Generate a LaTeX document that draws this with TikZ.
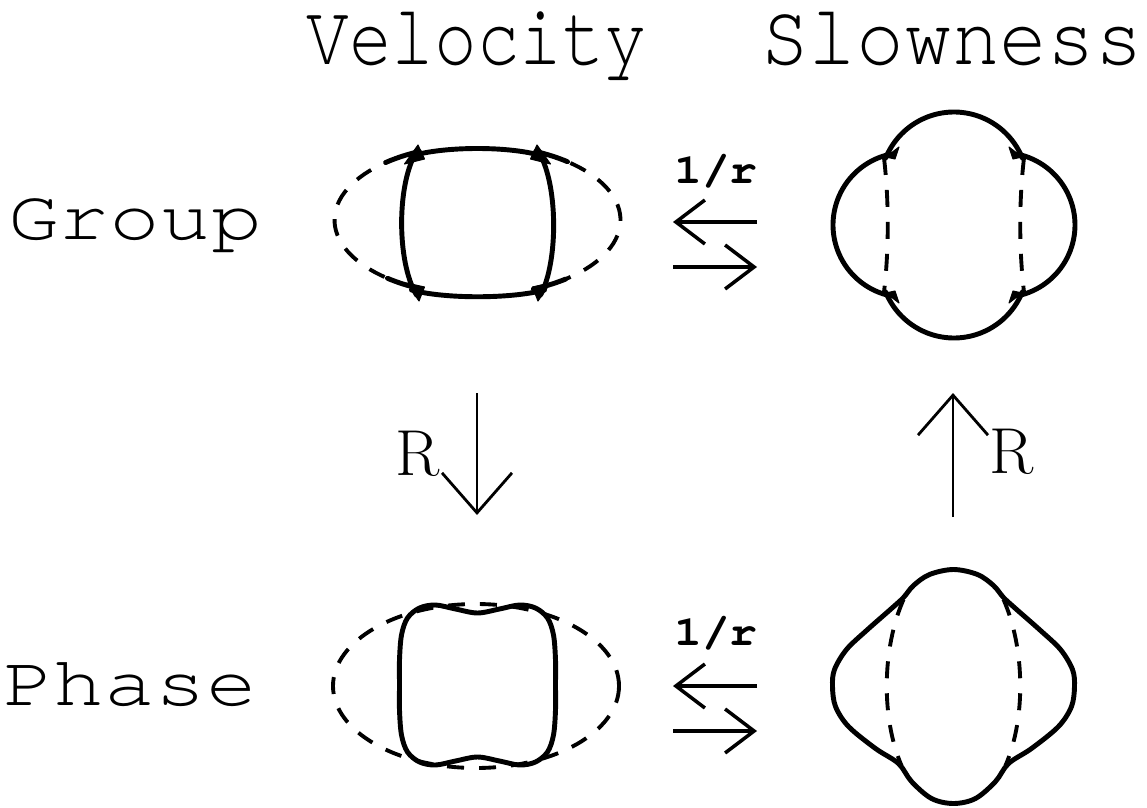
\documentclass[tikz,border=0pt]{standalone}
\usepackage{fontspec}
\usepackage{graphicx}
\usetikzlibrary{arrows.meta}
\newfontfamily\cursorfont{TeX Gyre Cursor}
\newcommand{\titlefont}{\cursorfont\fontsize{40.4}{44}\selectfont}
\newcommand{\rowfont}{\cursorfont\fontsize{40.4}{44}\selectfont}
\newcommand{\rfont}{\cursorfont\bfseries\fontsize{24}{26}\selectfont}
\newcommand{\Rfont}{\rmfamily\fontsize{37}{40}\selectfont}
\begin{document}
\begin{tikzpicture}[x=0.02cm,y=-0.02cm,
  surf/.style={line width=2.8pt, line join=round, line cap=round},
  cusp/.style={fill=black, draw=black, line width=0.6pt, line join=round},
  dsurf/.style={line width=2.2pt, dash pattern=on 0.34cm off 0.3cm},
  maparrow/.style={line width=2pt, -{Straight Barb[length=0.58cm,width=0.88cm,line width=2pt]}},
  rarrow/.style={line width=1.6pt, -{Straight Barb[length=0.8cm,width=1.4cm,line width=1.6pt]}},
  lbl/.style={anchor=base, inner sep=0pt}]
\useasboundingbox (0,0) rectangle (1147,808);

% titles
\node[lbl] (tvel) at (477,64) {\titlefont\scalebox{1}[1.22]{Velocity}};
\node[lbl] (tslo) at (952,64) {\titlefont\scalebox{1.12}[1.22]{Slowness}};
\node[lbl] (tgrp) at (135,239) {\rowfont\scalebox{1.19}[1]{Group}};
\node[lbl] (tpha) at (130,705) {\rowfont\scalebox{1.19}[1]{Phase}};

% centres of the four surfaces
\coordinate (gv) at (477.5,222);
\coordinate (gs) at (954,225);
\coordinate (pv) at (477.5,685);
\coordinate (ps) at (953.5,686.5);

% ---------- group velocity ----------
\begin{scope}[shift={(gv)}]
  \draw[dsurf] plot[domain=-64:64, samples=40] ({143*cos(\x)},{-2+75*sin(\x)});
  \draw[dsurf] plot[domain=116:244, samples=40] ({143*cos(\x)},{-2+75*sin(\x)});
  \draw[surf] (-66,-66) .. controls (-33,-76) and (33,-76) .. (65,-66);
  \draw[surf] (-66,68) .. controls (-33,77) and (33,77) .. (67,68);
  \draw[surf] (-60,-72) .. controls (-81,-40) and (-81,40) .. (-61,73);
  \draw[surf] (60,-72) .. controls (81,-40) and (81,40) .. (63,73);
  \draw[surf] plot[domain=230:246, samples=10] ({143*cos(\x)},{-2+75*sin(\x)});
  \draw[surf] plot[domain=114:129, samples=10] ({143*cos(\x)},{-2+75*sin(\x)});
  \draw[surf] plot[domain=294:309, samples=10] ({143*cos(\x)},{-2+75*sin(\x)});
  \draw[surf] plot[domain=52:67, samples=10] ({143*cos(\x)},{-2+75*sin(\x)});
  \draw[cusp] (-59.5,-77) -- (-73,-58) -- (-53,-63) -- cycle;
  \draw[cusp] (59.5,-77) -- (73,-58) -- (53,-63) -- cycle;
  \draw[cusp] (-58.5,79) -- (-71,61) -- (-53,65) -- cycle;
  \draw[cusp] (60.5,79) -- (73,61) -- (55,65) -- cycle;
\end{scope}

% ---------- group slowness ----------
\begin{scope}[shift={(gs)}]
  \draw[surf] plot[domain=202:338, samples=50] ({73.7*cos(\x)},{-39.3+73.7*sin(\x)});
  \draw[surf] plot[domain=22:158, samples=50] ({73.7*cos(\x)},{39.3+73.7*sin(\x)});
  \draw[surf] plot[domain=102:258, samples=50] ({-48.6+72.4*cos(\x)},{72.4*sin(\x)});
  \draw[surf] plot[domain=-78:78, samples=50] ({48.6+72.4*cos(\x)},{72.4*sin(\x)});
  \draw[dsurf] (-70,-67) .. controls (-65,-25) and (-65,25) .. (-70,67);
  \draw[dsurf] (70,-67) .. controls (65,-25) and (65,25) .. (70,67);
  \draw[cusp] (-68,-68) -- (-55,-78) -- (-59,-66) -- cycle;
  \draw[cusp] (68,-68) -- (55,-78) -- (59,-66) -- cycle;
  \draw[cusp] (-68,68) -- (-55,78) -- (-59,66) -- cycle;
  \draw[cusp] (68,68) -- (55,78) -- (59,66) -- cycle;
\end{scope}

% ---------- phase velocity ----------
\draw[dsurf] (476,686) ellipse [x radius=143, y radius=82];
\begin{scope}[shift={(pv)}]
  \draw[surf] plot[smooth cycle, tension=0.55] coordinates {
    (0,-72) (22,-76) (42,-80) (58,-77) (70,-67) (76,-50) (78,-25) (78,0)
    (78,25) (76,50) (70,67) (58,77) (42,80) (22,76) (0,72)
    (-22,76) (-42,80) (-58,77) (-70,67) (-76,50) (-78,25) (-78,0)
    (-78,-25) (-76,-50) (-70,-67) (-58,-77) (-42,-80) (-22,-76)};
\end{scope}

% ---------- phase slowness ----------
\begin{scope}[shift={(ps)}]
  \draw[surf] plot[smooth cycle, tension=0.55] coordinates {
    (0,-117) (24,-112) (40,-101) (50,-89) (62,-78) (87,-56) (107,-37) (119,-17) (121,0)
    (118,20) (105,40) (78,62) (55,77) (42,95) (22,112) (0,117)
    (-22,112) (-42,95) (-55,77) (-78,62) (-105,40) (-118,20) (-121,0)
    (-119,-17) (-107,-37) (-87,-56) (-62,-78) (-50,-89) (-40,-101) (-24,-112)};
  \draw[dsurf] (-50,-87) .. controls (-72,-37) and (-72,33) .. (-52,79);
  \draw[dsurf] (50,-87) .. controls (72,-37) and (72,33) .. (52,79);
\end{scope}

% ---------- 1/r maps ----------
\coordinate (ua) at (757,222);  \coordinate (ub) at (673,222);
\coordinate (uc) at (673,267);  \coordinate (ud) at (757,267);
\coordinate (la) at (757,686);  \coordinate (lb) at (673,686);
\coordinate (lc) at (673,731);  \coordinate (ld) at (757,731);
\draw[maparrow] (ua) -- (ub);
\draw[maparrow] (uc) -- (ud);
\draw[maparrow] (la) -- (lb);
\draw[maparrow] (lc) -- (ld);
\node[lbl] (r1) at (716,183) {\rfont\scalebox{1.1}[1]{1/r}};
\node[lbl] (r2) at (716,645) {\rfont\scalebox{1.1}[1]{1/r}};

% ---------- R maps ----------
\coordinate (da) at (477,393); \coordinate (db) at (477,515);
\coordinate (ea) at (953,517); \coordinate (eb) at (953,393);
\draw[rarrow] (da) -- (db);
\draw[rarrow] (ea) -- (eb);
\node[lbl] (R1) at (418,475) {\Rfont R};
\node[lbl] (R2) at (1012,473) {\Rfont R};
\end{tikzpicture}
\end{document}
